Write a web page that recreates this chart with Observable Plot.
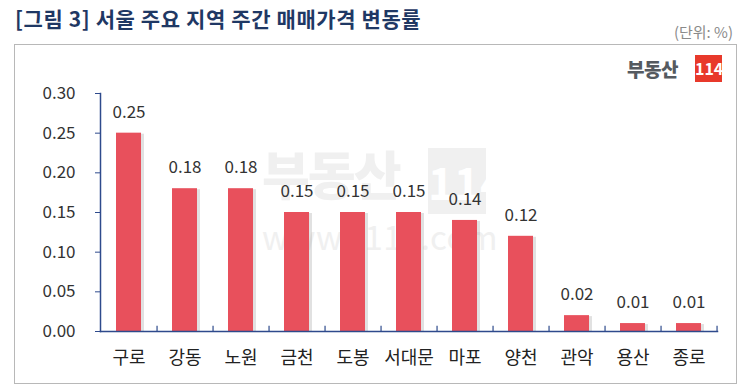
<!DOCTYPE html>
<html>
<head>
<meta charset="utf-8">
<script src="https://cdn.jsdelivr.net/npm/d3@7"></script>
<script src="https://cdn.jsdelivr.net/npm/@observablehq/plot@0.6"></script>
<style>
  html, body { margin: 0; padding: 0; background: #fff; }
  body { width: 750px; height: 391px; position: relative; overflow: hidden; font-family: "Noto Sans CJK KR", "Noto Sans", sans-serif; }
  #title { position: absolute; left: 15px; top: 3px; font-size: 21px; font-weight: bold; color: #1f3864; letter-spacing: 0.6px; }
  #unit { position: absolute; right: 17px; top: 21px; font-size: 15px; color: #8a8a8a; }
  #box { position: absolute; left: 14px; top: 44px; width: 721px; height: 338px; border: 1.5px solid #b8b8b8; }
  #logo { position: absolute; left: 627px; top: 55px; display: flex; align-items: center; }
  #logo .t { font-size: 19px; font-weight: 900; color: #555a60; margin-right: 17px; letter-spacing: -0.5px; }
  #logo .b { background: #e8392b; color: #fff; font-size: 16px; font-weight: bold; width: 27px; height: 27px; line-height: 27px; text-align: center; }
  #wm1 { position: absolute; left: 262px; top: 135px; font-size: 52px; font-weight: 900; color: #f0f0f0; letter-spacing: -2px; }
  #wm2 { position: absolute; left: 428px; top: 148px; width: 58px; height: 66px; background: #f0f0f0; color: #fff; font-size: 44px; font-weight: bold; text-align: center; line-height: 66px; }
  #wm3 { position: absolute; left: 262px; top: 212px; font-size: 33px; color: #f0f0f0; letter-spacing: 0.5px; }
  #chart { position: absolute; left: 0; top: 50px; }
</style>
</head>
<body>
<div id="title">[그림 3] 서울 주요 지역 주간 매매가격 변동률</div>
<div id="unit">(단위: %)</div>
<div id="box"></div>
<div id="wm1">부동산</div>
<div id="wm2">114</div>
<div id="wm3">www.r114.com</div>
<div id="logo"><span class="t">부동산</span><span class="b">114</span></div>
<div id="chart"></div>
<script>
const categories = ["구로", "강동", "노원", "금천", "도봉", "서대문", "마포", "양천", "관악", "용산", "종로"];
const values = [0.25, 0.18, 0.18, 0.15, 0.15, 0.15, 0.14, 0.12, 0.02, 0.01, 0.01];
const yTicks = [0, 0.05, 0.10, 0.15, 0.20, 0.25, 0.30];

const data = categories.map((c, i) => ({ region: c, value: values[i] }));

const width = 750, height = 330;
const mL = 100, mR = 33, mT = 43, mB = 49;
const step = (width - mL - mR) / categories.length;
const axisColor = "#2e4a8c";
const barColor = "#e8505c";

const chart = Plot.plot({
  width, height,
  marginLeft: mL, marginRight: mR, marginTop: mT, marginBottom: mB,
  style: { fontFamily: "'Noto Sans CJK KR', 'Noto Sans', sans-serif", background: "transparent", overflow: "visible" },
  x: { domain: categories, paddingInner: 0.55, paddingOuter: 0.275, label: null },
  y: { domain: [0, 0.3], label: null },
  marks: [
    Plot.barY(data, { x: "region", y: "value", fill: "#9a9a9a", fillOpacity: 0.3, dx: 3, dy: 1 }),
    Plot.barY(data, { x: "region", y: "value", fill: barColor }),
    Plot.frame({ anchor: "left", stroke: axisColor, strokeWidth: 1.5 }),
    Plot.frame({ anchor: "bottom", stroke: axisColor, strokeWidth: 1.5 }),
    Plot.ruleX(categories, { x: d => d, dx: step / 2, y1: 0, y2: 0.0065, stroke: axisColor, strokeWidth: 1.2 }),
    Plot.axisY({ ticks: yTicks, tickFormat: d3.format(".2f"), tickSize: 5, tickPadding: 20, stroke: axisColor, color: "#333", fontSize: 17, label: null }),
    Plot.axisX({ tickSize: 0, tickPadding: 20, fontSize: 18, color: "#222", label: null }),
    Plot.text(data, { x: "region", y: "value", text: d => d.value.toFixed(2), dy: -21, fontSize: 17, fill: "#333" })
  ]
});
document.getElementById("chart").appendChild(chart);
</script>
</body>
</html>
